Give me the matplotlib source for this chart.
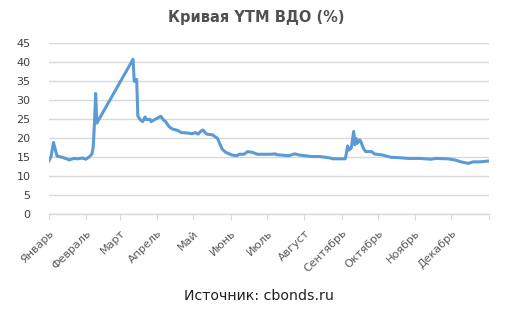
import matplotlib
matplotlib.use("Agg")
import matplotlib.pyplot as plt
import matplotlib.dates as mdates
import numpy as np
import pandas as pd

dates = ["2022-01-01","2022-01-03","2022-01-05","2022-01-08","2022-01-10","2022-01-16",
         "2022-01-18","2022-01-22","2022-01-25","2022-01-29","2022-02-01","2022-02-04",
         "2022-02-06","2022-02-07","2022-02-08","2022-02-09","2022-02-10","2022-03-12",
         "2022-03-13","2022-03-15","2022-03-16","2022-03-18","2022-03-20","2022-03-22",
         "2022-03-23","2022-03-26","2022-03-27","2022-03-31","2022-04-04","2022-04-06",
         "2022-04-08","2022-04-11","2022-04-14","2022-04-18","2022-04-21","2022-04-26",
         "2022-04-30","2022-05-03","2022-05-05","2022-05-07","2022-05-09","2022-05-12",
         "2022-05-17","2022-05-21","2022-05-25","2022-05-28","2022-06-02","2022-06-06",
         "2022-06-08","2022-06-12","2022-06-15","2022-06-19","2022-06-23","2022-07-04",
         "2022-07-08","2022-07-09","2022-07-19","2022-07-24","2022-07-28","2022-08-07",
         "2022-08-14","2022-08-21","2022-08-25","2022-09-04","2022-09-05","2022-09-06",
         "2022-09-07","2022-09-09","2022-09-11","2022-09-12","2022-09-13","2022-09-14",
         "2022-09-16","2022-09-17","2022-09-19","2022-09-21","2022-09-26","2022-09-28",
         "2022-10-05","2022-10-12","2022-10-19","2022-10-26","2022-11-05","2022-11-14",
         "2022-11-18","2022-11-28","2022-12-04","2022-12-09","2022-12-15","2022-12-19",
         "2022-12-25","2022-12-31"]
ytm = [14.0, 15.2, 18.9, 15.3, 15.2, 14.6,
       14.3, 14.7, 14.6, 14.8, 14.5, 15.2,
       15.9, 17.8, 24.0, 31.8, 24.0, 40.8,
       35.0, 35.5, 25.8, 24.9, 24.4, 25.6,
       24.9, 25.0, 24.4, 25.1, 25.8, 24.9,
       24.4, 23.0, 22.4, 22.1, 21.5, 21.4,
       21.2, 21.5, 21.1, 21.8, 22.2, 21.1,
       20.9, 20.0, 17.1, 16.3, 15.6, 15.4,
       15.8, 15.8, 16.5, 16.3, 15.8, 15.8,
       15.9, 15.7, 15.4, 15.9, 15.6, 15.2,
       15.2, 14.9, 14.6, 14.6, 16.1, 18.0,
       16.9, 17.4, 21.8, 18.3, 20.0, 18.7,
       19.6, 19.1, 17.4, 16.5, 16.5, 15.9,
       15.6, 15.0, 14.9, 14.7, 14.7, 14.5,
       14.7, 14.6, 14.3, 13.8, 13.4, 13.8,
       13.8, 14.0]
months = ["Январь","Февраль","Март","Апрель","Май","Июнь","Июль","Август",
          "Сентябрь","Октябрь","Ноябрь","Декабрь"]
yticks = [0, 5, 10, 15, 20, 25, 30, 35, 40, 45]
title = "Кривая YTM ВДО (%)"
source = "Источник: cbonds.ru"

x = pd.to_datetime(dates)
tick_dates = pd.date_range("2022-01-01", "2023-01-01", freq="MS")

fig = plt.figure(figsize=(5.12, 3.22), dpi=100)
ax = fig.add_axes([0.095, 0.3345, 0.8595, 0.531])
ax.plot(x, ytm, color="#5B9BD5", lw=2.2, solid_joinstyle="round")

ax.set_xlim(tick_dates[0], tick_dates[-1])
ax.set_ylim(0, 45)
ax.set_yticks(yticks)
ax.yaxis.grid(True, color="#D9D9D9", lw=1)
ax.set_axisbelow(True)
for s in ["top", "right", "left"]:
    ax.spines[s].set_visible(False)
ax.spines["bottom"].set_color("#D9D9D9")
ax.spines["bottom"].set_linewidth(1)

ax.set_xticks(tick_dates)
ax.set_xticklabels(months + [""], rotation=45, ha="right", va="top",
                   rotation_mode="anchor", fontsize=8, color="#595959")
ax.tick_params(axis="x", length=4, color="#D9D9D9", pad=6)
ax.tick_params(axis="y", length=0, labelsize=8, labelcolor="#404040", pad=13)

fig.text(0.5, 0.945, title, ha="center", va="center", fontsize=10.5,
         fontweight="bold", color="#505050")
fig.text(0.506, 0.08, source, ha="center", va="center", fontsize=10.2, color="#222222")

fig.savefig("out.png", dpi=100)
